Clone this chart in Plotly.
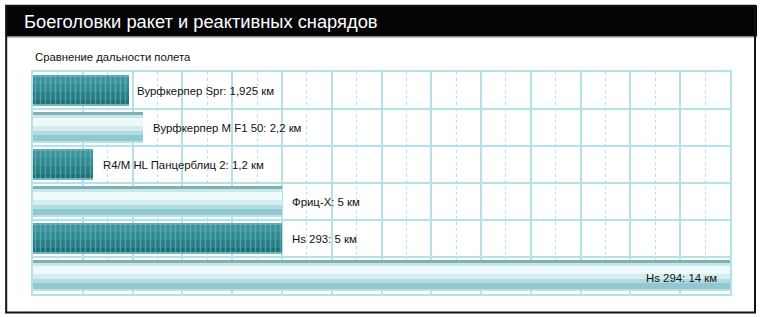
import plotly.graph_objects as go

# ---- data ----
names = ["Вурфкерпер Spr", "Вурфкерпер M F1 50", "R4/M HL Панцерблиц 2",
         "Фриц-X", "Hs 293", "Hs 294"]
ranges_km = [1.925, 2.2, 1.2, 5, 5, 14]
range_labels = ["1,925 км", "2,2 км", "1,2 км", "5 км", "5 км", "14 км"]
title_text = "Боеголовки ракет и реактивных снарядов"
subtitle_text = "Сравнение дальности полета"

W, H = 760, 317
L, R, T, B = 33.3, 730.0, 71.5, 294.0
PW, PH = R - L, B - T


def px(x):
    return (x - L) / PW


def py(y):
    return 1 - (y - T) / PH


rows = list(range(len(names)))
dark_rows = [i for i in rows if i % 2 == 0]
light_rows = [i for i in rows if i % 2 == 1]

BAR_W = 0.85

dark_bands = [  # (start, end, color) fractions from top
    (0.00, 0.08, "#5ea8ae"),
    (0.08, 0.30, "#3d949b"),
    (0.30, 0.55, "#308a92"),
    (0.55, 0.80, "#287d85"),
    (0.80, 0.96, "#1f6d75"),
    (0.96, 1.00, "#6fb6bc"),
]
light_bands = [
    (0.00, 0.11, "#80b0b4"),
    (0.11, 0.20, "#c9e6e9"),
    (0.20, 0.45, "#eef9fa"),
    (0.45, 0.60, "#d3edf0"),
    (0.60, 0.75, "#b1dbdf"),
    (0.75, 0.93, "#8fc8ce"),
    (0.93, 1.00, "#b9e2e6"),
]

fig = go.Figure()


def add_bands(sel, bands, striped):
    for s, e, c in bands:
        marker = dict(color=c, line=dict(width=0))
        if striped:
            marker["pattern"] = dict(shape="|", fgcolor="#7cc0c6", bgcolor=c, size=5,
                                     solidity=0.3)
        fig.add_trace(go.Bar(
            x=[ranges_km[i] for i in sel],
            y=sel,
            orientation="h",
            width=BAR_W * (e - s),
            offset=-BAR_W / 2 + BAR_W * s,
            marker=marker,
            showlegend=False,
            hoverinfo="skip",
        ))


add_bands(dark_rows, dark_bands, True)
add_bands(light_rows, light_bands, False)

annotations = []
last = len(names) - 1
for i in rows:
    txt = f"{names[i]}: {range_labels[i]}"
    if i == last:
        annotations.append(dict(x=ranges_km[i], y=i, xref="x", yref="y", text=txt,
                                showarrow=False, xanchor="right", xshift=-11, yshift=-2,
                                font=dict(size=11.4, color="#111111")))
    else:
        annotations.append(dict(x=ranges_km[i], y=i, xref="x", yref="y", text=txt,
                                showarrow=False, xanchor="left", xshift=6 if i == 0 else 8,
                                font=dict(size=11.4, color="#111111")))

annotations.append(dict(x=px(22), y=py(21), xref="paper", yref="paper", text=title_text,
                        showarrow=False, xanchor="left", yanchor="middle",
                        font=dict(size=18.3, color="white", family="Liberation Sans, Arial")))
annotations.append(dict(x=px(33), y=py(56), xref="paper", yref="paper", text=subtitle_text,
                        showarrow=False, xanchor="left", yanchor="middle",
                        font=dict(size=11.3, color="#111111")))

shapes = [
    dict(type="rect", xref="paper", yref="paper", x0=px(6), x1=px(757), y0=py(4.5), y1=py(36),
         fillcolor="#050507", line=dict(width=0), layer="above"),
    dict(type="line", xref="paper", yref="paper", x0=px(6), x1=px(757), y0=py(36.5), y1=py(36.5),
         line=dict(color="#8a9a9a", width=1)),
    dict(type="rect", xref="paper", yref="paper", x0=px(6.5), x1=px(755), y0=py(5), y1=py(312.5),
         line=dict(color="#111111", width=2), fillcolor="rgba(0,0,0,0)"),
]

grid_c = "#b3e2e9"
fig.update_layout(
    width=W, height=H,
    margin=dict(l=L, r=W - R, t=T, b=H - B, pad=0),
    paper_bgcolor="white", plot_bgcolor="white",
    barmode="overlay", bargap=0,
    font=dict(family="Liberation Sans, Arial", size=11, color="#111111"),
    annotations=annotations, shapes=shapes,
    showlegend=False,
)
fig.update_xaxes(range=[0, 14], dtick=1, tick0=0, showticklabels=False, ticks="",
                 showgrid=True, gridcolor=grid_c, gridwidth=1.5,
                 minor=dict(dtick=0.5, showgrid=True, gridcolor=grid_c, griddash="dot", gridwidth=1),
                 showline=True, mirror=True, linecolor=grid_c, linewidth=2, zeroline=False,
                 fixedrange=True)
fig.update_yaxes(range=[5.5, -0.5], tickmode="array",
                 tickvals=[v - 0.5 for v in range(len(names) + 1)],
                 showticklabels=False, ticks="",
                 showgrid=True, gridcolor=grid_c, gridwidth=2,
                 showline=True, mirror=True, linecolor=grid_c, linewidth=2, zeroline=False,
                 fixedrange=True)

fig.write_html("out.html", config={"displayModeBar": False})
